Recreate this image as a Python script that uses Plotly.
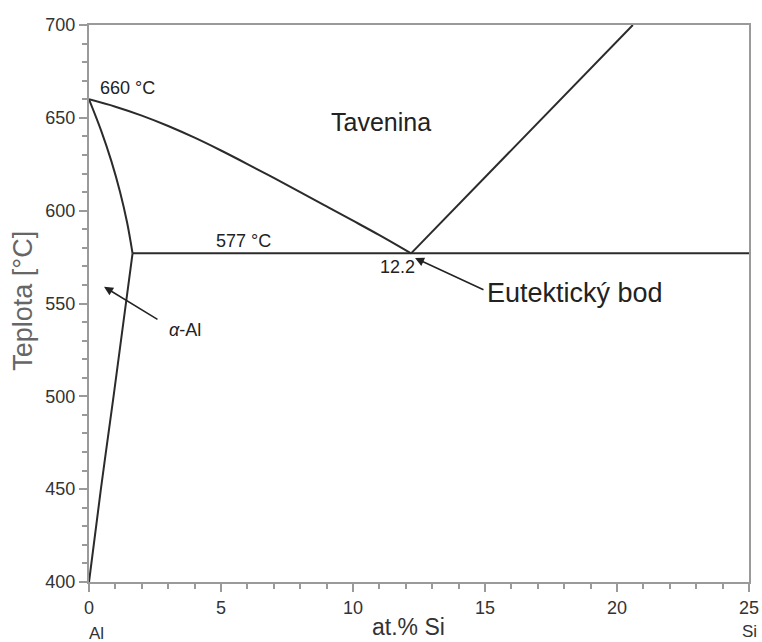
import plotly.graph_objects as go

# Liquidus (Al side)
liq_al_x = [0, 1, 2, 3, 4, 5, 6, 7, 8, 9, 10, 11, 12.2]
liq_al_y = [660, 656, 651.2, 645.6, 639.3, 632.4, 625.1, 617.6, 610, 602.3, 594.6, 586.8, 577]
# Liquidus (Si side)
liq_si_x = [12.2, 20.6]
liq_si_y = [577, 700]
# Solidus
sol_x = [0, 0.453, 0.844, 1.174, 1.443, 1.65]
sol_y = [660, 643.4, 626.8, 610.2, 593.6, 577]
# Solvus
solv_x = [1.65, 0.93, 0.45, 0]
solv_y = [577, 500, 450, 400]
# Eutectic line
eut_x = [1.65, 25]
eut_y = [577, 577]

x_ticks = [0, 5, 10, 15, 20, 25]
y_ticks = [400, 450, 500, 550, 600, 650, 700]

LINE = dict(color="#2b2b2b", width=2)
FONT = "Liberation Sans, Arial, sans-serif"
AX = "#9a9a9a"

fig = go.Figure()
for xs, ys in [(liq_al_x, liq_al_y), (liq_si_x, liq_si_y), (sol_x, sol_y),
               (solv_x, solv_y), (eut_x, eut_y)]:
    fig.add_trace(go.Scatter(x=xs, y=ys, mode="lines", line=LINE,
                             line_shape="spline" if len(xs) > 2 else "linear",
                             showlegend=False, hoverinfo="skip"))

axis_common = dict(showline=True, linecolor=AX, linewidth=2,
                   mirror=True, ticks="outside", tickcolor=AX,
                   ticklen=8, tickwidth=2, showgrid=False, zeroline=False,
                   automargin=False,
                   tickfont=dict(family=FONT, size=18, color="#333333"))

fig.update_xaxes(range=[0, 25], tickvals=x_ticks,
                 minor=dict(dtick=1, ticks="outside", ticklen=5,
                            tickcolor=AX, tickwidth=1.5),
                 **axis_common)
fig.update_yaxes(range=[400, 700], tickvals=y_ticks,
                 minor=dict(dtick=10, ticks="outside", ticklen=5,
                            tickcolor=AX, tickwidth=1.5),
                 **axis_common)

ann_font = dict(family=FONT, size=18, color="#222222")
big_font = dict(family=FONT, size=25, color="#222222")

annotations = [
    dict(x=0.33, y=666, text="660 °C", showarrow=False, xanchor="left", font=ann_font),
    dict(x=11.06, y=648, text="Tavenina", showarrow=False, xanchor="center", font=big_font),
    dict(x=5.87, y=583.5, text="577 °C", showarrow=False, xanchor="center", font=ann_font),
    dict(x=11.7, y=569.5, text="12.2", showarrow=False, xanchor="center", font=ann_font),
    dict(x=15.0, y=555.5, text="Eutektický bod", showarrow=False, xanchor="left",
         font=dict(family=FONT, size=27, color="#222222")),
    dict(x=2.95, y=535.5, text="<i>α</i>-Al", showarrow=False, xanchor="left", font=ann_font),
    # arrows
    dict(x=12.35, y=574.5, ax=15.0, ay=557, xref="x", yref="y", axref="x", ayref="y",
         text="", showarrow=True, arrowhead=2, arrowsize=1.2, arrowwidth=1.5, arrowcolor="#222222"),
    dict(x=0.57, y=559, ax=2.65, ay=541, xref="x", yref="y", axref="x", ayref="y",
         text="", showarrow=True, arrowhead=2, arrowsize=1.2, arrowwidth=1.5, arrowcolor="#222222"),
    # axis titles
    dict(x=12.1, y=-0.081, xref="x", yref="paper", text="at.% Si", showarrow=False,
         xanchor="center", yanchor="middle",
         font=dict(family=FONT, size=23, color="#333333")),
    dict(x=-0.1, y=0.505, xref="paper", yref="paper", text="Teplota [°C]", showarrow=False,
         xanchor="center", yanchor="middle",
         textangle=-90, font=dict(family=FONT, size=27, color="#666666")),
    # Al / Si end labels
    dict(x=0.3, y=-0.092, xref="x", yref="paper", text="Al", showarrow=False,
         xanchor="center", yanchor="middle",
         font=dict(family=FONT, size=17, color="#333333")),
    dict(x=25, y=-0.089, xref="x", yref="paper", text="Si", showarrow=False,
         xanchor="center", yanchor="middle",
         font=dict(family=FONT, size=17, color="#333333")),
]
fig.update_layout(annotations=annotations,
                  width=762, height=642,
                  margin=dict(l=89, r=13, t=25, b=60),
                  paper_bgcolor="white", plot_bgcolor="white",
                  font=dict(family=FONT))

fig.write_html("out.html",
               config={"displayModeBar": False},
               post_script="document.body.style.margin='0';"
                           "document.body.style.overflow='hidden';"
                           "document.documentElement.style.overflow='hidden';")
